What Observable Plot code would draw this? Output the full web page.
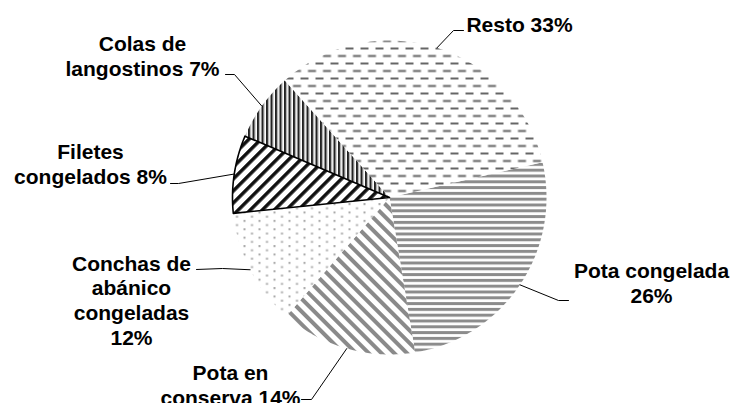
<!DOCTYPE html>
<html><head><meta charset="utf-8">
<script src="https://cdn.jsdelivr.net/npm/d3@7"></script>
<script src="https://cdn.jsdelivr.net/npm/@observablehq/plot@0.6"></script>
<style>
html,body{margin:0;padding:0;background:#fff;}
#chart svg{display:block;}
</style>
</head><body><div id="chart"></div>
<script>
// ---- data ----
const categories = ["Pota congelada", "Pota en conserva", "Conchas de abánico congeladas", "Filetes congelados", "Colas de langostinos", "Resto"];
const shares = [26, 14, 12, 8, 7, 33];
const labelTexts = ["Pota congelada\n26%", "Pota en\nconserva 14%", "Conchas de\nabánico\ncongeladas\n12%", "Filetes\ncongelados 8%", "Colas de\nlangostinos 7%", "Resto 33%"];
const patternIds = ["pCong", "pCons", "pConc", "pFil", "pCol", "pRes"];

// ---- layout (pixels) ----
const W = 731, H = 403;
const cx = 389, cy = 197, R = 157, startDeg = 77;
const labelLayout = [
  {tx: 651, ty: 302, elbow: [558, 300], tip: [568, 300]},
  {tx: 230, ty: 404, elbow: [311, 399], tip: [301, 399]},
  {tx: 131, ty: 344, elbow: [222, 268], tip: [196, 269]},
  {tx: 90,  ty: 183, elbow: [178, 183], tip: [170, 183]},
  {tx: 142, ty: 75,  elbow: [234, 74],  tip: [225, 74]},
  {tx: 519, ty: 31,  elbow: [453, 30],  tip: [463, 30]}
];

// ---- geometry from data ----
const total = d3.sum(shares);
const rad = d => d * Math.PI / 180;
const pt = (deg, r) => [cx + r * Math.sin(rad(deg)), cy - r * Math.cos(rad(deg))];
let acc = startDeg;
const slices = categories.map((name, i) => {
  const a0 = acc, a1 = acc + shares[i] / total * 360;
  acc = a1;
  const pts = [{name, x: cx, y: cy}];
  const n = Math.max(2, Math.ceil(a1 - a0));
  for (let k = 0; k <= n; k++) {
    const [x, y] = pt(a0 + (a1 - a0) * k / n, R);
    pts.push({name, x, y});
  }
  return {name, a0, a1, mid: (a0 + a1) / 2, pts, pattern: patternIds[i]};
});
const leaders = slices.flatMap((s, i) => {
  const [ex, ey] = pt(s.mid, R);
  const L = labelLayout[i];
  return [
    {name: s.name, x: ex, y: ey},
    {name: s.name, x: L.elbow[0], y: L.elbow[1]},
    {name: s.name, x: L.tip[0], y: L.tip[1]}
  ];
});
const labels = slices.map((s, i) => ({name: s.name, text: labelTexts[i], x: labelLayout[i].tx, y: labelLayout[i].ty}));

const marks = [];
slices.forEach(s => {
  marks.push(Plot.line(s.pts, {x: "x", y: "y", curve: "linear-closed", fill: `url(#${s.pattern})`, stroke: "none"}));
});
// Filetes slice outline
marks.push(Plot.line(slices[3].pts, {x: "x", y: "y", curve: "linear-closed", fill: "none", stroke: "#000", strokeWidth: 1.6}));
marks.push(Plot.line(leaders, {x: "x", y: "y", z: "name", stroke: "#000", strokeWidth: 1}));
marks.push(Plot.text(labels, {x: "x", y: "y", text: "text", lineAnchor: "bottom", lineHeight: 1.17, textAnchor: "middle",
  fontSize: 21, fontWeight: "bold", fontFamily: "'Liberation Sans', Arial, sans-serif", fill: "#000"}));

const chart = Plot.plot({
  width: W, height: H,
  margin: 0,
  x: {type: "linear", domain: [0, W], range: [0, W], axis: null},
  y: {type: "linear", domain: [0, H], range: [0, H], axis: null},
  style: {background: "#fff"},
  marks
});

// pattern definitions
const svg = d3.select(chart.tagName.toLowerCase() === "svg" ? chart : chart.querySelector("svg"));
const defs = svg.insert("defs", ":first-child");
function pat(id, w, h, transform) {
  const p = defs.append("pattern").attr("id", id).attr("patternUnits", "userSpaceOnUse")
    .attr("width", w).attr("height", h);
  if (transform) p.attr("patternTransform", transform);
  p.append("rect").attr("width", w).attr("height", h).attr("fill", "#fff");
  return p;
}
// Resto: staggered horizontal dashes
let p = pat("pRes", 15, 15);
p.append("rect").attr("x", 0).attr("y", 2).attr("width", 8).attr("height", 2).attr("fill", "#666");
p.append("rect").attr("x", 7.5).attr("y", 9.5).attr("width", 8).attr("height", 2).attr("fill", "#666");
p.append("rect").attr("x", -7.5).attr("y", 9.5).attr("width", 8).attr("height", 2).attr("fill", "#666");
// Pota congelada: horizontal stripes
p = pat("pCong", 6, 5.8);
p.append("rect").attr("x", 0).attr("y", 0).attr("width", 6).attr("height", 3).attr("fill", "#8c8c8c");
// Pota en conserva: wide downward diagonal
p = pat("pCons", 9, 9, "rotate(-45)");
p.append("rect").attr("x", 0).attr("y", 0).attr("width", 4).attr("height", 9).attr("fill", "#8a8a8a");
// Conchas: dots
p = pat("pConc", 15, 8.4);
p.append("rect").attr("x", 3).attr("y", 1).attr("width", 2).attr("height", 2).attr("fill", "#a8a8a8");
p.append("rect").attr("x", 10.5).attr("y", 5.2).attr("width", 2).attr("height", 2).attr("fill", "#a8a8a8");
// Filetes: wide upward diagonal black
p = pat("pFil", 8.5, 8.5, "rotate(45)");
p.append("rect").attr("x", 0).attr("y", 0).attr("width", 3.5).attr("height", 8.5).attr("fill", "#111");
// Colas: narrow vertical
p = pat("pCol", 4.5, 10);
p.append("rect").attr("x", 0).attr("y", 0).attr("width", 2).attr("height", 10).attr("fill", "#222");
p.append("rect").attr("x", 2).attr("y", 0).attr("width", 1).attr("height", 10).attr("fill", "#999");

document.getElementById("chart").appendChild(chart);
</script>
</body></html>
